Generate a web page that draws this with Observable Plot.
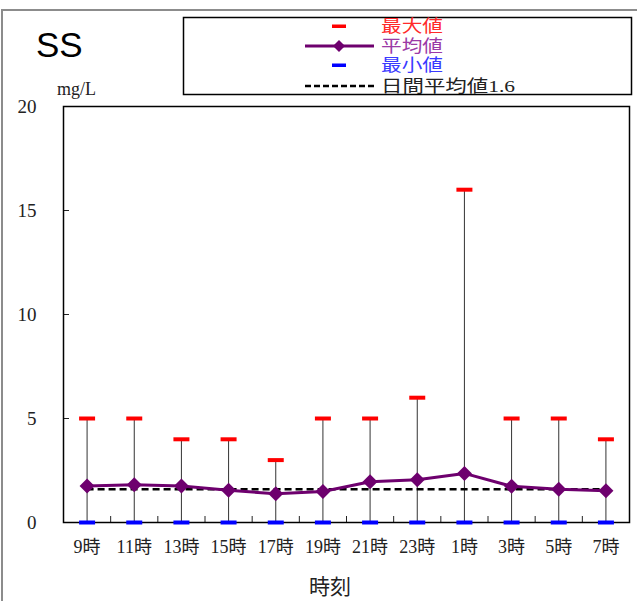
<!DOCTYPE html>
<html><head><meta charset="utf-8">
<script src="https://cdn.jsdelivr.net/npm/d3@7"></script>
<script src="https://cdn.jsdelivr.net/npm/@observablehq/plot@0.6"></script>
<style>
body{margin:0;background:#fff}
#wrap{position:relative;width:637px;height:601px;overflow:hidden;background:#fff}
#border{position:absolute;left:1px;top:9px;width:700px;height:700px;border-left:2px solid #8c8c8c;border-top:2px solid #8c8c8c}
#plot{position:absolute;left:0;top:0}
#legend{position:absolute;left:0;top:0}
</style></head><body>
<div id="wrap"><div id="border"></div><div id="plot"></div><svg id="legend" width="637" height="110"></svg></div>
<script>
const hours = ["9時","11時","13時","15時","17時","19時","21時","23時","1時","3時","5時","7時"];
const maxVals = [5,5,4,4,3,5,5,6,16,5,5,4];
const meanVals = [1.75,1.81,1.76,1.55,1.38,1.49,1.96,2.05,2.36,1.74,1.60,1.53];
const minVals = [0,0,0,0,0,0,0,0,0,0,0,0];
const dailyMean = 1.6;
const yTicks = [0,5,10,15,20];
const titleText = "SS";
const unitText = "mg/L";
const xTitle = "時刻";
const legendLabels = ["最大値","平均値","最小値","日間平均値1.6"];

const data = hours.map((h,i)=>({i, h, max:maxVals[i], mean:meanVals[i], min:minVals[i]}));
const bar = {draw(ctx){ ctx.rect(-8,-2,16,4); }};
const diamond = {draw(ctx){ const s=7.5; ctx.moveTo(0,-s); ctx.lineTo(s,0); ctx.lineTo(0,s); ctx.lineTo(-s,0); ctx.closePath(); }};
const serif = "'Liberation Serif','DejaVu Serif','Noto Sans CJK JP',serif";
const purple = "#6e006e";

const chart = Plot.plot({
  width: 637, height: 601,
  marginLeft: 63, marginRight: 8, marginTop: 106, marginBottom: 79,
  style: {fontFamily: serif, fontSize: "18px", color: "#222", background: "transparent"},
  x: {type: "linear", domain: [-0.5, hours.length - 0.5]},
  y: {domain: [0, 20]},
  marks: [
    Plot.axisY({ticks: yTicks, tickSize: -6, tickPadding: 33, tickFormat: d=>String(d), fontSize: 19, label: null}),
    Plot.axisX({ticks: d3.range(0.5, hours.length - 1, 1), tickSize: -6, tickFormat: ()=>"", label: null}),
    Plot.axisX({ticks: d3.range(0, hours.length), tickSize: 0, tickPadding: 18, tickFormat: i=>hours[i], fontSize: 18, label: null}),
    Plot.frame({stroke: "#000", strokeWidth: 1.5}),
    Plot.ruleX(data, {x: "i", y1: "min", y2: "max", stroke: "#333", strokeWidth: 1}),
    Plot.ruleY([dailyMean], {x1: 0, x2: hours.length - 1, stroke: "#000", strokeWidth: 2.5, strokeDasharray: "7,4"}),
    Plot.line(data, {x: "i", y: "mean", stroke: purple, strokeWidth: 3}),
    Plot.dot(data, {x: "i", y: "mean", symbol: diamond, fill: purple, stroke: "none"}),
    Plot.dot(data, {x: "i", y: "max", symbol: bar, fill: "#ff0000", stroke: "none"}),
    Plot.dot(data, {x: "i", y: "min", symbol: bar, fill: "#0000ff", stroke: "none"})
  ]
});
document.getElementById("plot").appendChild(chart);

// extra text in the plot area (title, unit, x title)
const ov = d3.select(chart);
ov.append("text").attr("x", 36).attr("y", 57).attr("text-anchor", "start").attr("font-family", "'Liberation Sans',Arial,sans-serif").attr("font-size", 35).attr("fill", "#000").text(titleText);
ov.append("text").attr("x", 57).attr("y", 95).attr("text-anchor", "start").attr("font-family", serif).attr("font-size", 18).attr("fill", "#222").text(unitText);
ov.append("text").attr("x", 330).attr("y", 594).attr("text-anchor", "middle").attr("font-family", "'Noto Sans CJK JP',sans-serif").attr("font-size", 21).attr("fill", "#222").text(xTitle);

// legend
const lg = d3.select("#legend");
lg.append("rect").attr("x", 183.5).attr("y", 17.5).attr("width", 448).attr("height", 77).attr("fill", "#fff").attr("stroke", "#000").attr("stroke-width", 1.5);
const ly = [26, 46, 65, 86];
const lcol = ["#ff2a2a", "#9b3aa6", "#3a3aff", "#222"];
const lw = [62, 62, 62, 134];
lg.append("rect").attr("x", 332).attr("y", ly[0]-1.5).attr("width", 14).attr("height", 3.5).attr("fill", "#ff0000");
lg.append("line").attr("x1", 305).attr("x2", 374).attr("y1", ly[1]).attr("y2", ly[1]).attr("stroke", purple).attr("stroke-width", 3);
lg.append("path").attr("d", `M339,${ly[1]-6}L345,${ly[1]}L339,${ly[1]+6}L333,${ly[1]}Z`).attr("fill", purple);
lg.append("rect").attr("x", 332).attr("y", ly[2]-1.5).attr("width", 14).attr("height", 3.5).attr("fill", "#0000ff");
lg.append("line").attr("x1", 305).attr("x2", 374).attr("y1", ly[3]).attr("y2", ly[3]).attr("stroke", "#000").attr("stroke-width", 2.5).attr("stroke-dasharray", "6,3");
legendLabels.forEach((t, k) => {
  lg.append("text").attr("x", 381).attr("y", ly[k]).attr("dy", "0.36em").attr("font-family", serif).attr("font-size", 17)
    .attr("textLength", lw[k]).attr("lengthAdjust", "spacingAndGlyphs").attr("fill", lcol[k]).text(t);
});
</script>
</body></html>
